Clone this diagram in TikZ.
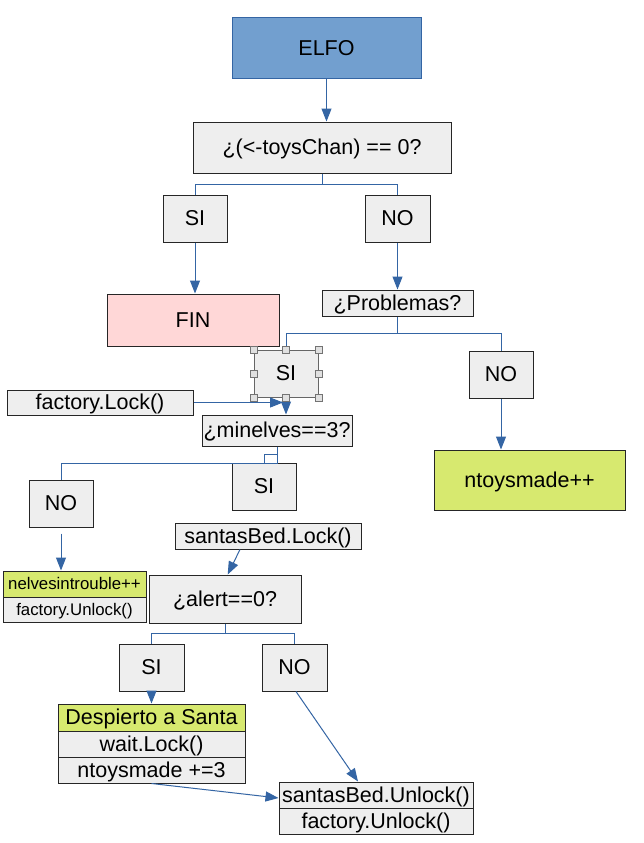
\documentclass[tikz,border=0pt]{standalone}
\usepackage{fontspec}
\setmainfont{Liberation Sans}
\usetikzlibrary{arrows.meta}
\definecolor{lnblue}{HTML}{3465A4}
\definecolor{boxgray}{HTML}{EEEEEE}
\definecolor{elfoblue}{HTML}{729FCF}
\definecolor{finpink}{HTML}{FFD7D7}
\definecolor{ygreen}{HTML}{D7E96F}
\begin{document}
\begin{tikzpicture}[x=1pt,y=-1pt,
  box/.style={draw=black!85, line width=1pt, fill=boxgray, inner sep=0pt, font=\fontsize{21.5}{25}\selectfont, text height=19.4pt, text depth=4.55pt},
  smallbox/.style={box, font=\fontsize{16.8}{20}\selectfont, text height=15.2pt, text depth=3.56pt},
  arr/.style={draw=lnblue, line width=1pt, -{Triangle[length=13pt,width=10pt]}},
  branch/.style={draw=lnblue, line width=1pt},
  handle/.style={draw=black!55, fill=black!12, line width=0.8pt, minimum size=7pt, inner sep=0pt}]
\useasboundingbox (0,0) rectangle (644,843);
\fill[white] (0,0) rectangle (644,843);

\node[box, fill=elfoblue, draw=lnblue, minimum width=189pt, minimum height=60pt] (elfo) at (326.5,48) {ELFO};
\node[box, minimum width=258pt, minimum height=51pt] (cond) at (322,147.5) {¿(<-toysChan) == 0?};
\node[box, minimum width=64pt, minimum height=47pt] (si1) at (195,218.5) {SI};
\node[box, minimum width=65pt, minimum height=47pt] (no1) at (397.5,218.5) {NO};
\node[box, fill=finpink, minimum width=172pt, minimum height=52pt] (fin) at (193,320) {FIN};
\node[box, minimum width=151pt, minimum height=26pt] (prob) at (397.5,303) {¿Problemas?};
\node[box, draw=black!60, minimum width=64pt, minimum height=47pt] (si2) at (286,373.5) {SI};
\node[box, minimum width=64pt, minimum height=47pt] (no2) at (501,374.5) {NO};
\node[box, fill=ygreen, minimum width=191pt, minimum height=60pt] (ntoys) at (529.5,480) {ntoysmade++};
\node[box, minimum width=186pt, minimum height=25pt] (flock) at (100,402.5) {factory.Lock()};
\node[box, minimum width=150pt, minimum height=31pt] (minel) at (277,430.5) {¿minelves==3?};
\node[box, minimum width=64pt, minimum height=47pt] (si3) at (264,486.5) {SI};
\node[box, minimum width=64pt, minimum height=47pt] (no3) at (61,503.5) {NO};
\node[smallbox, fill=ygreen, minimum width=143pt, minimum height=26pt] (nelA) at (74.5,584) {nelvesintrouble++};
\node[smallbox, minimum width=143pt, minimum height=25pt] (nelB) at (74.5,609.5) {factory.Unlock()};
\node[box, minimum width=186pt, minimum height=26pt] (sbl) at (268,536) {santasBed.Lock()};
\node[box, minimum width=152pt, minimum height=48pt] (alert) at (225,599) {¿alert==0?};
\node[box, minimum width=65pt, minimum height=47pt] (si4) at (151.5,667.5) {SI};
\node[box, minimum width=65pt, minimum height=47pt] (no4) at (294.5,667.5) {NO};
\node[box, fill=ygreen, minimum width=187pt, minimum height=27pt] (desA) at (151.5,717.5) {Despierto a Santa};
\node[box, minimum width=187pt, minimum height=26pt] (desB) at (151.5,744) {wait.Lock()};
\node[box, minimum width=187pt, minimum height=26pt] (desC) at (151.5,770) {ntoysmade +=3};
\node[box, minimum width=194pt, minimum height=26pt] (sbuA) at (376,795) {santasBed.Unlock()};
\node[box, minimum width=194pt, minimum height=26pt] (sbuB) at (376,821) {factory.Unlock()};

\draw[arr] (elfo.south) -- (elfo.south |- cond.north);
\draw[branch] (cond.south) -- ++(0,11) coordinate (c1) -| (si1.north);
\draw[branch] (c1) -| (no1.north);
\draw[arr] (si1.south) -- (si1.south |- fin.north);
\draw[arr] (no1.south) -- (no1.south |- prob.north);
\draw[branch] (prob.south) -- ++(0,16.5) coordinate (c2) -| (si2.north);
\draw[branch] (c2) -| (no2.north);
\draw[arr] (no2.south) -- (no2.south |- ntoys.north);
\coordinate (flockend) at (283,402.5);
\draw[arr] (flock.east) -- (flockend);
\draw[arr] (si2.south) -- (si2.south |- minel.north);
\draw[branch] (minel.south) -- ++(0,8) -| (si3.north);
\draw[branch] (minel.south) -- ++(0,16.5) -| (no3.north);
\draw[arr] ([yshift=-6pt]no3.south) -- (no3.south |- nelA.north);
\draw[arr] ([xshift=-28pt]sbl.south) -- ([xshift=2.7pt]alert.north);
\draw[branch] (alert.south) -- ++(0,10) coordinate (c3) -| (si4.north);
\draw[branch] (c3) -| (no4.north);
\draw[arr] (si4.south) -- (si4.south |- desA.north);
\draw[arr] ([xshift=1.5pt]no4.south) -- ([xshift=-18pt]sbuA.north);
\draw[arr] (desC.south) -- ([yshift=-3pt]sbuA.west);

\foreach \a [count=\i] in {north west, north, north east, west, east, south west, south, south east}
  \node[handle] (h\i) at (si2.\a) {};
\end{tikzpicture}
\end{document}
